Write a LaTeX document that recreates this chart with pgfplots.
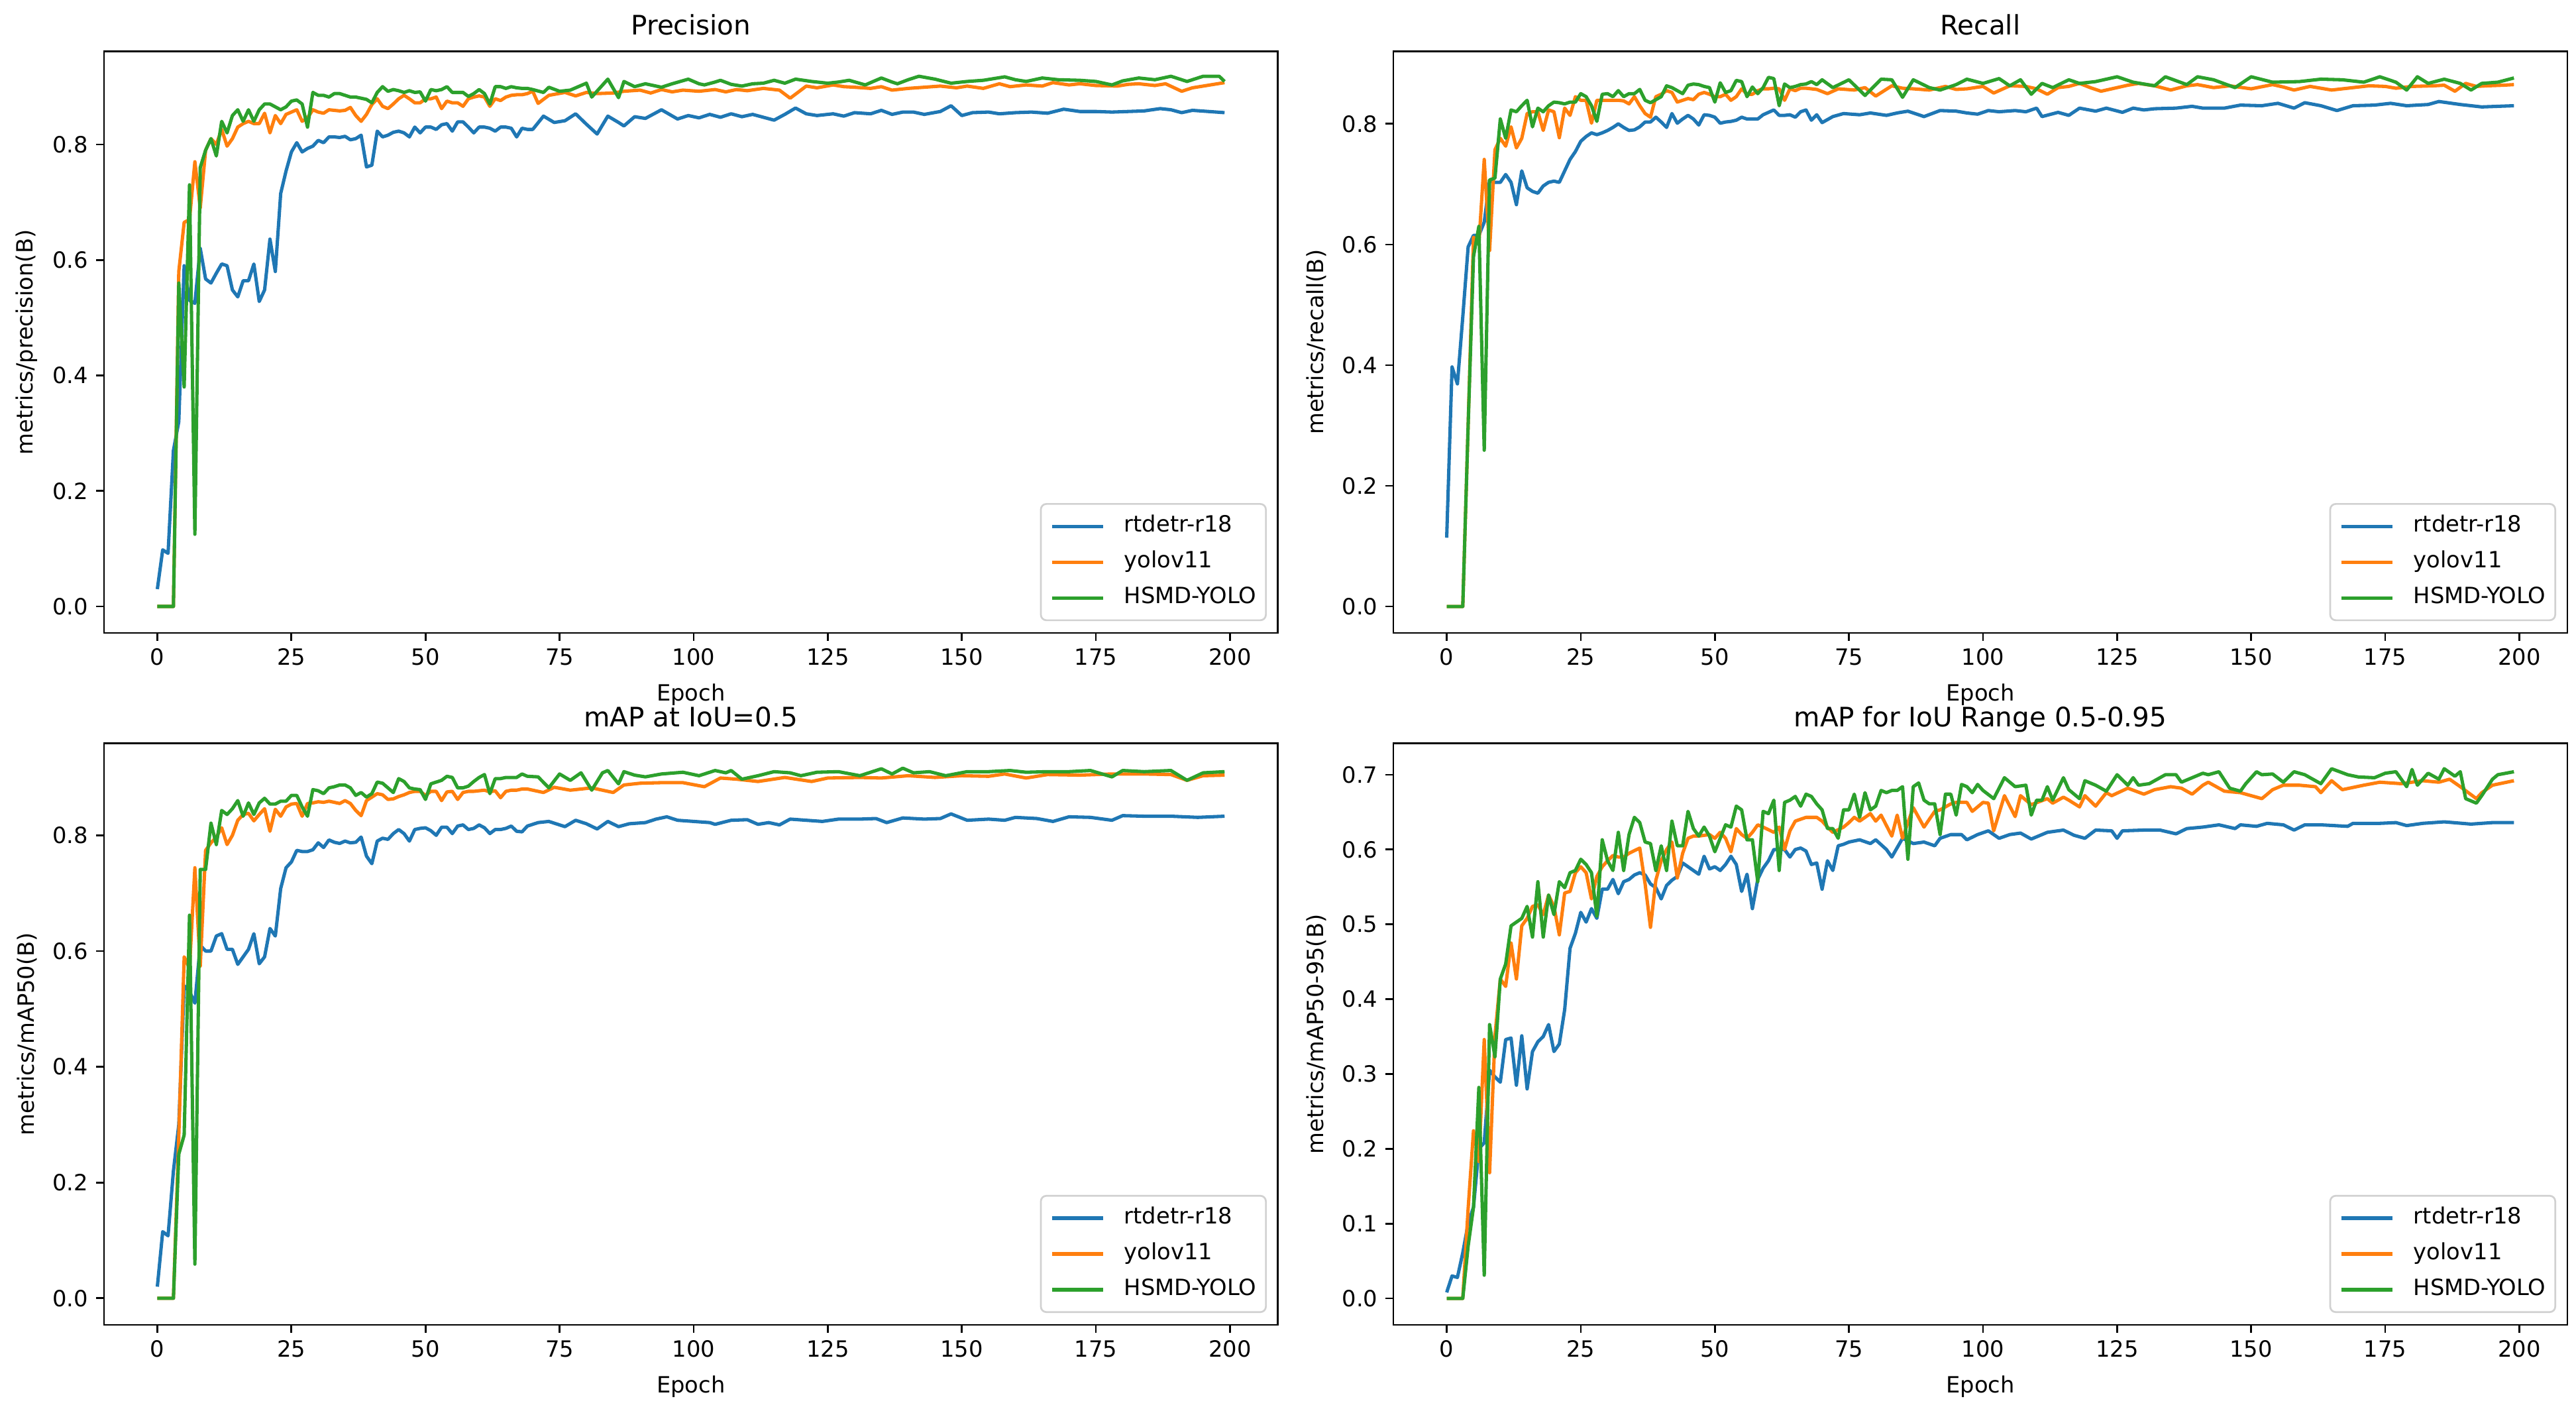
\documentclass[border=0pt]{standalone}
\usepackage{fontspec}
\setmainfont{DejaVu Sans}
\usepackage{pgfplots}
\pgfplotsset{compat=1.18}
\definecolor{tabblue}{HTML}{1F77B4}
\definecolor{taborange}{HTML}{FF7F0E}
\definecolor{tabgreen}{HTML}{2CA02C}
\definecolor{legframe}{gray}{0.82}
\pgfplotsset{
  mpl/.style={
    scale only axis, width=525pt, height=260pt,
    xmin=-9.95, xmax=208.95,
    xtick={0,25,50,75,100,125,150,175,200},
    tick align=outside, tick pos=left,
    major tick length=3.5pt,
    every tick/.style={black, line width=0.8pt},
    axis line style={line width=0.8pt},
    /pgf/number format/assume math mode=true,
    ticklabel style={font=\fontsize{10}{12}\selectfont},
    yticklabel style={/pgf/number format/fixed, /pgf/number format/fixed zerofill, /pgf/number format/precision=1},
    xticklabel style={/pgf/number format/fixed, /pgf/number format/precision=0},
    label style={font=\fontsize{10}{12}\selectfont},
    xlabel style={yshift=-1.2pt},
    every axis title/.style={at={(0.5,1)}, anchor=base, yshift=7.5pt, font=\fontsize{12}{14}\selectfont},
    every axis plot/.append style={line width=1.5pt, line join=round},
    legend cell align=left,
    legend image code/.code={\draw[##1, line width=1.5pt] (0pt,0pt) -- (23pt,0pt);},
    legend style={
      at={(0.9905,0.0204)}, anchor=south east,
      draw=legframe, line width=0.8pt, rounded corners=2.5pt,
      fill=white,
      font=\fontsize{10}{12}\selectfont,
      inner xsep=4.2pt, inner ysep=5pt,
      row sep=6pt,
      nodes={inner sep=0pt, text height=7.5pt, text depth=2.5pt},
      /tikz/every odd column/.append style={column sep=8.6pt},
    },
  }
}
\begin{document}
\begin{tikzpicture}
\useasboundingbox (0,0) rectangle (1152pt,632.3pt);
% ---------------- Precision ----------------
\begin{axis}[mpl, at={(46.5pt,349.3pt)}, anchor=south west,
  ymin=-0.046, ymax=0.961, ytick={0,0.2,0.4,0.6,0.8},
  title={Precision}, xlabel={Epoch}, ylabel={metrics/precision(B)}]
\addplot[tabblue] coordinates {(0,0.03)(1,0.098)(2,0.092)(3,0.27)(4,0.32)(5,0.59)(6,0.53)(7,0.525)(8,0.62)(9,0.567)(10,0.56)(11,0.577)(12,0.593)(13,0.59)(14,0.548)(15,0.536)(16,0.564)(17,0.564)(18,0.593)(19,0.528)(20,0.548)(21,0.636)(22,0.58)(23,0.715)(24,0.754)(25,0.787)(26,0.803)(27,0.787)(28,0.793)(29,0.797)(30,0.807)(31,0.803)(32,0.813)(33,0.813)(34,0.812)(35,0.814)(36,0.808)(37,0.81)(38,0.816)(39,0.761)(40,0.764)(41,0.823)(42,0.813)(43,0.816)(44,0.821)(45,0.823)(46,0.82)(47,0.813)(48,0.83)(49,0.82)(50,0.83)(51,0.83)(52,0.826)(53,0.834)(54,0.836)(55,0.823)(56,0.839)(57,0.839)(58,0.83)(59,0.82)(60,0.83)(61,0.83)(62,0.828)(63,0.823)(64,0.83)(65,0.83)(66,0.828)(67,0.813)(68,0.828)(69,0.826)
(70,0.826)(72,0.849)(74,0.838)(76,0.841)(78,0.853)(80,0.835)(82,0.818)(84,0.849)(86,0.838)(87,0.832)(89,0.848)(91,0.845)(94,0.86)(97,0.844)(99,0.85)(101,0.846)(103,0.852)(105,0.847)(107,0.853)(109,0.848)(111,0.852)(113,0.847)(115,0.842)(117,0.852)(119,0.863)(121,0.853)(123,0.85)(126,0.853)(128,0.849)(130,0.855)(133,0.853)(135,0.859)(137,0.852)(139,0.856)(141,0.856)(143,0.852)(146,0.857)(148,0.867)(150,0.85)(152,0.855)(155,0.856)(157,0.853)(160,0.855)(163,0.856)(166,0.854)(169,0.861)(172,0.857)(175,0.857)(178,0.856)(181,0.857)(184,0.858)(187,0.862)(189,0.86)(191,0.855)(193,0.859)(196,0.857)(199,0.855)};
\addplot[taborange] coordinates {(0,0)(1,0)(2,0)(3,0)(4,0.58)(5,0.665)(6,0.67)(7,0.77)(8,0.69)(9,0.79)(10,0.81)(11,0.80)(12,0.826)(13,0.797)(14,0.81)(15,0.83)(16,0.836)(17,0.84)(18,0.836)(19,0.836)(20,0.854)(21,0.82)(22,0.85)(23,0.836)(24,0.852)(25,0.856)(26,0.86)(27,0.84)(28,0.846)(29,0.86)(30,0.856)(31,0.854)(32,0.86)(33,0.859)(34,0.858)(35,0.859)(36,0.864)(37,0.85)(38,0.84)(39,0.852)(40,0.869)(41,0.879)(42,0.866)(43,0.862)(44,0.87)(45,0.879)(46,0.885)(47,0.879)(48,0.872)(49,0.872)(50,0.879)(51,0.879)(52,0.882)(53,0.862)(54,0.875)(55,0.872)(56,0.872)(57,0.866)(58,0.879)(59,0.882)(60,0.884)(61,0.882)(62,0.866)(63,0.879)(64,0.876)(65,0.882)(66,0.885)(67,0.886)(68,0.886)(69,0.888)
(70,0.892)(71,0.871)(73,0.885)(76,0.89)(78,0.884)(80,0.89)(82,0.888)(85,0.889)(87,0.892)(90,0.894)(92,0.889)(94,0.895)(96,0.891)(98,0.894)(101,0.892)(104,0.895)(106,0.891)(108,0.895)(110,0.893)(113,0.897)(116,0.894)(118,0.88)(121,0.901)(123,0.898)(126,0.903)(128,0.9)(130,0.899)(133,0.897)(135,0.9)(137,0.894)(140,0.897)(143,0.899)(146,0.901)(149,0.898)(151,0.901)(154,0.897)(157,0.905)(159,0.9)(162,0.903)(165,0.901)(167,0.907)(170,0.903)(172,0.905)(175,0.902)(179,0.901)(181,0.904)(183,0.905)(186,0.902)(188,0.905)(191,0.892)(193,0.898)(195,0.901)(197,0.904)(199,0.907)};
\addplot[tabgreen] coordinates {(0,0)(1,0)(2,0)(3,0)(4,0.56)(5,0.38)(6,0.73)(7,0.125)(8,0.76)(9,0.79)(10,0.81)(11,0.78)(12,0.84)(13,0.82)(14,0.85)(15,0.86)(16,0.84)(17,0.86)(18,0.84)(19,0.86)(20,0.87)(21,0.87)(22,0.865)(23,0.86)(24,0.865)(25,0.875)(26,0.877)(27,0.87)(28,0.83)(29,0.89)(30,0.885)(31,0.885)(32,0.882)(33,0.888)(34,0.888)(35,0.885)(36,0.882)(37,0.882)(38,0.88)(39,0.878)(40,0.872)(41,0.89)(42,0.9)(43,0.892)(44,0.895)(45,0.893)(46,0.89)(47,0.893)(48,0.89)(49,0.891)(50,0.875)(51,0.895)(52,0.893)(53,0.895)(54,0.9)(55,0.89)(56,0.89)(57,0.89)(58,0.883)(59,0.888)(60,0.895)(61,0.888)(62,0.87)(63,0.9)(64,0.9)(65,0.897)(66,0.9)(67,0.898)(68,0.897)(69,0.897)
(70,0.895)(72,0.89)(73,0.899)(75,0.892)(77,0.894)(80,0.906)(81,0.882)(84,0.913)(86,0.881)(87,0.909)(89,0.9)(91,0.905)(94,0.899)(96,0.905)(99,0.913)(101,0.905)(102,0.903)(104,0.908)(105,0.911)(107,0.904)(109,0.901)(111,0.905)(113,0.906)(115,0.911)(117,0.906)(119,0.913)(122,0.909)(125,0.906)(127,0.908)(129,0.911)(132,0.903)(135,0.915)(137,0.908)(138,0.905)(140,0.912)(142,0.918)(145,0.913)(148,0.906)(151,0.909)(154,0.911)(158,0.917)(160,0.912)(162,0.909)(165,0.915)(168,0.912)(172,0.911)(175,0.909)(178,0.903)(180,0.91)(183,0.915)(186,0.912)(189,0.918)(192,0.909)(195,0.918)(198,0.918)(199,0.909)};
\legend{rtdetr-r18,yolov11,HSMD-YOLO}
\end{axis}
% ---------------- Recall ----------------
\begin{axis}[mpl, at={(623.1pt,349.3pt)}, anchor=south west,
  ymin=-0.044, ymax=0.920, ytick={0,0.2,0.4,0.6,0.8},
  title={Recall}, xlabel={Epoch}, ylabel={metrics/recall(B)}]
\addplot[tabblue] coordinates {(0,0.114)(1,0.397)(2,0.369)(3,0.48)(4,0.596)(5,0.615)(6,0.615)(7,0.637)(8,0.706)(9,0.703)(10,0.703)(11,0.716)(12,0.703)(13,0.666)(14,0.722)(15,0.694)(16,0.688)(17,0.685)(18,0.697)(19,0.703)(20,0.705)(21,0.703)(22,0.722)(23,0.741)(24,0.754)(25,0.771)(26,0.779)(27,0.785)(28,0.782)(29,0.785)(30,0.789)(31,0.794)(32,0.8)(33,0.794)(34,0.789)(35,0.79)(36,0.795)(37,0.803)(38,0.803)(39,0.811)(40,0.803)(41,0.794)(42,0.817)(43,0.801)(44,0.808)(45,0.814)(46,0.808)(47,0.798)(48,0.815)(49,0.814)(50,0.811)(51,0.801)(52,0.803)(53,0.804)(54,0.806)(55,0.811)(56,0.808)(57,0.808)(58,0.808)(59,0.815)(60,0.819)(61,0.823)(62,0.814)(63,0.814)(64,0.815)(65,0.811)(66,0.82)(67,0.823)(68,0.806)(69,0.815)
(70,0.802)(72,0.812)(74,0.817)(77,0.815)(79,0.818)(82,0.814)(84,0.818)(86,0.821)(89,0.812)(92,0.822)(95,0.821)(97,0.818)(99,0.816)(101,0.822)(103,0.82)(106,0.822)(108,0.82)(110,0.826)(111,0.812)(114,0.819)(116,0.814)(118,0.826)(121,0.821)(123,0.826)(126,0.819)(128,0.826)(130,0.823)(132,0.825)(136,0.826)(139,0.829)(141,0.826)(145,0.826)(148,0.831)(152,0.83)(155,0.834)(158,0.826)(160,0.835)(163,0.83)(166,0.822)(169,0.83)(173,0.831)(176,0.834)(179,0.83)(183,0.832)(185,0.837)(189,0.832)(193,0.828)(196,0.829)(199,0.83)};
\addplot[taborange] coordinates {(0,0)(1,0)(2,0)(3,0)(4,0.3)(5,0.612)(6,0.6)(7,0.741)(8,0.59)(9,0.757)(10,0.776)(11,0.763)(12,0.795)(13,0.76)(14,0.776)(15,0.817)(16,0.82)(17,0.82)(18,0.789)(19,0.823)(20,0.82)(21,0.777)(22,0.826)(23,0.814)(24,0.845)(25,0.839)(26,0.839)(27,0.801)(28,0.839)(29,0.839)(30,0.839)(31,0.839)(32,0.839)(33,0.838)(34,0.833)(35,0.845)(36,0.83)(37,0.817)(38,0.811)(39,0.845)(40,0.849)(41,0.855)(42,0.852)(43,0.836)(44,0.839)(45,0.842)(46,0.84)(47,0.849)(48,0.852)(49,0.849)(50,0.845)(51,0.845)(52,0.849)(53,0.839)(54,0.845)(55,0.858)(56,0.849)(57,0.849)(58,0.855)(59,0.858)(60,0.858)(61,0.859)(62,0.858)(63,0.839)(64,0.858)(65,0.855)(66,0.859)(67,0.859)(68,0.858)(69,0.857)
(71,0.85)(73,0.858)(76,0.856)(78,0.86)(80,0.846)(83,0.863)(85,0.859)(87,0.858)(90,0.856)(93,0.862)(95,0.857)(97,0.858)(100,0.862)(102,0.851)(105,0.863)(108,0.862)(110,0.858)(112,0.849)(114,0.86)(116,0.862)(118,0.867)(120,0.86)(122,0.854)(125,0.86)(127,0.864)(129,0.867)(132,0.863)(135,0.856)(138,0.863)(140,0.865)(143,0.86)(146,0.863)(150,0.858)(154,0.865)(156,0.861)(158,0.856)(161,0.862)(165,0.856)(169,0.86)(172,0.863)(175,0.862)(177,0.859)(180,0.862)(184,0.863)(186,0.864)(188,0.854)(190,0.867)(192,0.862)(194,0.863)(197,0.864)(199,0.865)};
\addplot[tabgreen] coordinates {(0,0)(1,0)(2,0)(3,0)(4,0.3)(5,0.58)(6,0.63)(7,0.259)(8,0.707)(9,0.71)(10,0.808)(11,0.776)(12,0.823)(13,0.82)(14,0.83)(15,0.839)(16,0.795)(17,0.826)(18,0.82)(19,0.83)(20,0.836)(21,0.835)(22,0.833)(23,0.836)(24,0.836)(25,0.85)(26,0.845)(27,0.83)(28,0.804)(29,0.849)(30,0.85)(31,0.845)(32,0.855)(33,0.845)(34,0.85)(35,0.85)(36,0.857)(37,0.839)(38,0.835)(39,0.84)(40,0.845)(41,0.863)(42,0.86)(43,0.855)(44,0.85)(45,0.864)(46,0.866)(47,0.865)(48,0.862)(49,0.86)(50,0.836)(51,0.868)(52,0.852)(53,0.855)(54,0.872)(55,0.87)(56,0.845)(57,0.861)(58,0.85)(59,0.86)(60,0.877)(61,0.875)(62,0.83)(63,0.866)(64,0.86)(65,0.862)(66,0.865)(67,0.866)(68,0.87)(69,0.865)
(70,0.873)(72,0.86)(75,0.873)(78,0.847)(81,0.874)(83,0.873)(85,0.844)(87,0.873)(90,0.86)(92,0.856)(95,0.865)(97,0.874)(100,0.867)(103,0.875)(105,0.863)(107,0.873)(109,0.849)(111,0.867)(113,0.86)(116,0.873)(118,0.867)(121,0.87)(125,0.878)(128,0.869)(132,0.863)(134,0.878)(138,0.865)(140,0.878)(143,0.873)(147,0.86)(150,0.878)(154,0.869)(159,0.87)(163,0.874)(167,0.873)(171,0.869)(174,0.878)(177,0.869)(179,0.856)(181,0.878)(183,0.867)(186,0.874)(189,0.867)(191,0.856)(193,0.867)(196,0.869)(199,0.876)};
\legend{rtdetr-r18,yolov11,HSMD-YOLO}
\end{axis}
% ---------------- mAP50 ----------------
\begin{axis}[mpl, at={(46.5pt,40pt)}, anchor=south west,
  ymin=-0.046, ymax=0.959, ytick={0,0.2,0.4,0.6,0.8},
  title={mAP at IoU=0.5}, xlabel={Epoch}, ylabel={metrics/mAP50(B)}]
\addplot[tabblue] coordinates {(0,0.02)(1,0.115)(2,0.108)(3,0.22)(4,0.3)(5,0.54)(6,0.53)(7,0.51)(8,0.61)(9,0.6)(10,0.6)(11,0.626)(12,0.63)(13,0.603)(14,0.603)(15,0.577)(16,0.59)(17,0.603)(18,0.63)(19,0.578)(20,0.59)(21,0.639)(22,0.626)(23,0.708)(24,0.744)(25,0.754)(26,0.774)(27,0.772)(28,0.772)(29,0.775)(30,0.787)(31,0.779)(32,0.792)(33,0.788)(34,0.786)(35,0.79)(36,0.787)(37,0.788)(38,0.797)(39,0.764)(40,0.751)(41,0.79)(42,0.795)(43,0.793)(44,0.803)(45,0.81)(46,0.803)(47,0.79)(48,0.81)(49,0.812)(50,0.813)(51,0.808)(52,0.8)(53,0.814)(54,0.814)(55,0.803)(56,0.816)(57,0.818)(58,0.81)(59,0.812)(60,0.818)(61,0.813)(62,0.803)(63,0.81)(64,0.81)(65,0.812)(66,0.816)(67,0.807)(68,0.806)(69,0.816)
(71,0.822)(73,0.824)(76,0.815)(78,0.826)(80,0.82)(82,0.811)(84,0.824)(86,0.815)(88,0.82)(91,0.822)(93,0.828)(95,0.832)(97,0.826)(100,0.824)(103,0.822)(104,0.819)(107,0.826)(110,0.827)(112,0.819)(114,0.822)(116,0.818)(118,0.828)(121,0.826)(124,0.824)(127,0.828)(131,0.828)(134,0.829)(136,0.822)(139,0.83)(143,0.828)(146,0.829)(148,0.837)(151,0.826)(155,0.828)(158,0.826)(160,0.831)(164,0.829)(167,0.824)(170,0.832)(174,0.831)(178,0.826)(180,0.834)(184,0.833)(189,0.833)(194,0.831)(199,0.833)};
\addplot[taborange] coordinates {(0,0)(1,0)(2,0)(3,0)(4,0.28)(5,0.59)(6,0.57)(7,0.744)(8,0.574)(9,0.774)(10,0.787)(11,0.797)(12,0.813)(13,0.784)(14,0.8)(15,0.826)(16,0.836)(17,0.838)(18,0.825)(19,0.836)(20,0.846)(21,0.807)(22,0.845)(23,0.833)(24,0.849)(25,0.854)(26,0.855)(27,0.833)(28,0.855)(29,0.856)(30,0.858)(31,0.857)(32,0.859)(33,0.857)(34,0.855)(35,0.86)(36,0.855)(37,0.843)(38,0.834)(39,0.86)(40,0.866)(41,0.872)(42,0.87)(43,0.862)(44,0.863)(45,0.867)(46,0.87)(47,0.874)(48,0.876)(49,0.876)(50,0.869)(51,0.876)(52,0.876)(53,0.86)(54,0.875)(55,0.876)(56,0.862)(57,0.874)(58,0.876)(59,0.876)(60,0.877)(61,0.878)(62,0.875)(63,0.877)(64,0.865)(65,0.876)(66,0.878)(67,0.878)(68,0.88)(69,0.88)
(72,0.874)(74,0.883)(77,0.878)(81,0.882)(85,0.874)(87,0.887)(90,0.89)(94,0.891)(98,0.891)(102,0.884)(105,0.899)(108,0.897)(112,0.893)(117,0.9)(122,0.893)(125,0.899)(131,0.9)(135,0.899)(140,0.903)(145,0.9)(150,0.903)(155,0.902)(158,0.906)(162,0.899)(166,0.905)(172,0.904)(178,0.906)(184,0.906)(189,0.905)(192,0.895)(195,0.903)(199,0.904)};
\addplot[tabgreen] coordinates {(0,0)(1,0)(2,0)(3,0)(4,0.249)(5,0.282)(6,0.662)(7,0.059)(8,0.741)(9,0.741)(10,0.821)(11,0.784)(12,0.843)(13,0.836)(14,0.846)(15,0.86)(16,0.833)(17,0.856)(18,0.836)(19,0.856)(20,0.864)(21,0.854)(22,0.854)(23,0.859)(24,0.859)(25,0.869)(26,0.869)(27,0.849)(28,0.833)(29,0.879)(30,0.877)(31,0.872)(32,0.882)(33,0.884)(34,0.887)(35,0.887)(36,0.882)(37,0.869)(38,0.874)(39,0.866)(40,0.872)(41,0.892)(42,0.89)(43,0.882)(44,0.874)(45,0.898)(46,0.893)(47,0.882)(48,0.88)(49,0.879)(50,0.862)(51,0.889)(52,0.892)(53,0.895)(54,0.902)(55,0.9)(56,0.882)(57,0.882)(58,0.885)(59,0.893)(60,0.9)(61,0.905)(62,0.872)(63,0.898)(64,0.898)(65,0.9)(66,0.9)(67,0.9)(68,0.906)(69,0.902)
(71,0.901)(73,0.882)(75,0.906)(77,0.895)(79,0.908)(81,0.878)(83,0.908)(84,0.912)(86,0.889)(87,0.91)(89,0.904)(91,0.901)(94,0.906)(98,0.909)(101,0.903)(104,0.912)(106,0.908)(107,0.912)(109,0.897)(112,0.903)(115,0.91)(118,0.908)(120,0.903)(123,0.909)(127,0.91)(131,0.903)(135,0.915)(137,0.906)(139,0.916)(141,0.908)(144,0.91)(147,0.903)(151,0.91)(155,0.91)(159,0.912)(162,0.909)(166,0.91)(170,0.91)(174,0.912)(178,0.901)(180,0.912)(184,0.91)(189,0.912)(192,0.895)(195,0.908)(199,0.91)};
\legend{rtdetr-r18,yolov11,HSMD-YOLO}
\end{axis}
% ---------------- mAP50-95 ----------------
\begin{axis}[mpl, at={(623.1pt,40pt)}, anchor=south west,
  ymin=-0.0354, ymax=0.742, ytick={0,0.1,0.2,0.3,0.4,0.5,0.6,0.7},
  title={mAP for IoU Range 0.5-0.95}, xlabel={Epoch}, ylabel={metrics/mAP50-95(B)}]
\addplot[tabblue] coordinates {(0,0.008)(1,0.03)(2,0.028)(3,0.061)(4,0.1)(5,0.122)(6,0.2)(7,0.208)(8,0.305)(9,0.296)(10,0.289)(11,0.346)(12,0.348)(13,0.285)(14,0.351)(15,0.28)(16,0.33)(17,0.343)(18,0.35)(19,0.366)(20,0.33)(21,0.34)(22,0.386)(23,0.468)(24,0.488)(25,0.516)(26,0.503)(27,0.521)(28,0.508)(29,0.547)(30,0.547)(31,0.56)(32,0.541)(33,0.557)(34,0.56)(35,0.566)(36,0.569)(37,0.566)(38,0.554)(39,0.549)(40,0.534)(41,0.552)(42,0.559)(43,0.564)(44,0.582)(45,0.577)(46,0.572)(47,0.567)(48,0.591)(49,0.574)(50,0.577)(51,0.572)(52,0.58)(53,0.591)(54,0.58)(55,0.544)(56,0.567)(57,0.521)(58,0.56)(59,0.575)(60,0.585)(61,0.6)(62,0.6)(63,0.6)(64,0.59)(65,0.6)(66,0.602)(67,0.598)(68,0.58)(69,0.582)(70,0.547)(71,0.585)(72,0.572)(73,0.605)(74,0.607)(75,0.61)(77,0.613)(79,0.608)(80,0.613)(82,0.6)(83,0.59)(85,0.615)(87,0.608)(89,0.61)(91,0.605)(92,0.615)(94,0.62)(96,0.62)(97,0.613)(99,0.62)
(101,0.625)(103,0.615)(105,0.62)(107,0.622)(109,0.614)(112,0.623)(115,0.626)(117,0.619)(119,0.615)(121,0.626)(124,0.625)(125,0.615)(126,0.625)(130,0.626)(133,0.626)(136,0.621)(138,0.628)(141,0.63)(144,0.633)(147,0.628)(148,0.633)(151,0.631)(153,0.635)(156,0.633)(158,0.626)(160,0.633)(163,0.633)(168,0.631)(169,0.635)(174,0.635)(177,0.636)(179,0.632)(182,0.635)(186,0.637)(191,0.634)(195,0.636)(199,0.636)};
\addplot[taborange] coordinates {(0,0)(1,0)(2,0)(3,0)(4,0.12)(5,0.224)(6,0.183)(7,0.346)(8,0.168)(9,0.351)(10,0.427)(11,0.417)(12,0.475)(13,0.427)(14,0.498)(15,0.508)(16,0.524)(17,0.526)(18,0.513)(19,0.539)(20,0.524)(21,0.486)(22,0.542)(23,0.544)(24,0.569)(25,0.577)(26,0.569)(27,0.534)(28,0.564)(29,0.577)(30,0.585)(31,0.592)(32,0.59)(33,0.59)(34,0.595)(36,0.602)(37,0.554)(38,0.496)(39,0.559)(40,0.585)(41,0.6)(42,0.61)(43,0.562)(44,0.595)(45,0.615)(46,0.618)(47,0.618)(48,0.619)(49,0.62)(50,0.615)(51,0.623)(52,0.615)(53,0.597)(54,0.628)(55,0.62)(56,0.615)(57,0.623)(58,0.633)(59,0.63)(61,0.623)(62,0.63)(63,0.6)(64,0.625)(65,0.638)(67,0.643)(69,0.643)(70,0.638)(71,0.63)(72,0.623)(74,0.63)(75,0.636)(76,0.643)(77,0.638)(79,0.648)(80,0.638)(81,0.646)(83,0.618)(84,0.646)(85,0.615)(86,0.636)(87,0.656)(89,0.63)(91,0.651)(92,0.653)(94,0.661)(95,0.663)(97,0.663)(98,0.651)(100,0.663)
(101,0.662)(102,0.625)(104,0.672)(106,0.644)(107,0.672)(109,0.66)(112,0.668)(113,0.662)(115,0.67)(116,0.666)(118,0.657)(119,0.672)(121,0.658)(123,0.676)(124,0.672)(127,0.682)(130,0.674)(132,0.68)(135,0.684)(137,0.682)(139,0.674)(141,0.686)(142,0.69)(145,0.678)(148,0.676)(152,0.668)(154,0.68)(156,0.686)(159,0.686)(162,0.684)(163,0.676)(165,0.692)(167,0.68)(171,0.686)(174,0.69)(178,0.688)(182,0.692)(185,0.69)(187,0.694)(189,0.684)(192,0.668)(193,0.676)(195,0.686)(199,0.692)};
\addplot[tabgreen] coordinates {(0,0)(1,0)(2,0)(3,0)(4,0.07)(5,0.122)(6,0.282)(7,0.031)(8,0.366)(9,0.323)(10,0.427)(11,0.447)(12,0.498)(13,0.503)(14,0.508)(15,0.524)(16,0.483)(17,0.557)(18,0.483)(19,0.539)(20,0.513)(21,0.557)(22,0.549)(23,0.569)(24,0.572)(25,0.587)(26,0.58)(27,0.569)(28,0.511)(29,0.613)(30,0.585)(31,0.572)(32,0.623)(33,0.572)(34,0.62)(35,0.643)(36,0.636)(37,0.61)(38,0.608)(39,0.572)(40,0.605)(41,0.572)(42,0.638)(43,0.605)(44,0.605)(45,0.651)(46,0.628)(47,0.618)(48,0.63)(49,0.618)(50,0.597)(51,0.615)(52,0.633)(53,0.63)(54,0.658)(55,0.653)(56,0.613)(57,0.613)(58,0.557)(59,0.651)(60,0.648)(61,0.666)(62,0.572)(63,0.663)(64,0.666)(65,0.671)(66,0.658)(67,0.674)(68,0.671)(69,0.661)(70,0.653)(71,0.628)(72,0.628)(73,0.615)(74,0.653)(75,0.653)(76,0.674)(77,0.643)(78,0.676)(79,0.653)(80,0.658)(81,0.679)(82,0.676)(83,0.679)(84,0.679)(85,0.684)(86,0.587)(87,0.684)(88,0.689)(89,0.666)(90,0.661)(91,0.661)(92,0.62)(93,0.674)(94,0.674)(95,0.646)(96,0.687)(97,0.684)(98,0.676)(99,0.687)(100,0.679)
(102,0.668)(104,0.696)(106,0.684)(108,0.686)(109,0.646)(110,0.666)(111,0.666)(112,0.684)(113,0.666)(115,0.696)(116,0.68)(118,0.668)(119,0.692)(121,0.686)(123,0.678)(125,0.7)(127,0.686)(128,0.696)(129,0.686)(131,0.688)(134,0.7)(136,0.7)(137,0.69)(139,0.696)(141,0.702)(142,0.7)(144,0.704)(146,0.682)(148,0.678)(149,0.688)(151,0.704)(152,0.7)(154,0.701)(156,0.69)(158,0.704)(160,0.7)(162,0.692)(163,0.688)(165,0.708)(168,0.7)(170,0.697)(173,0.696)(175,0.702)(177,0.704)(179,0.684)(180,0.707)(181,0.686)(183,0.702)(185,0.694)(186,0.708)(188,0.698)(189,0.704)(190,0.668)(192,0.662)(193,0.672)(195,0.694)(196,0.7)(199,0.704)};
\legend{rtdetr-r18,yolov11,HSMD-YOLO}
\end{axis}
\end{tikzpicture}
\end{document}
